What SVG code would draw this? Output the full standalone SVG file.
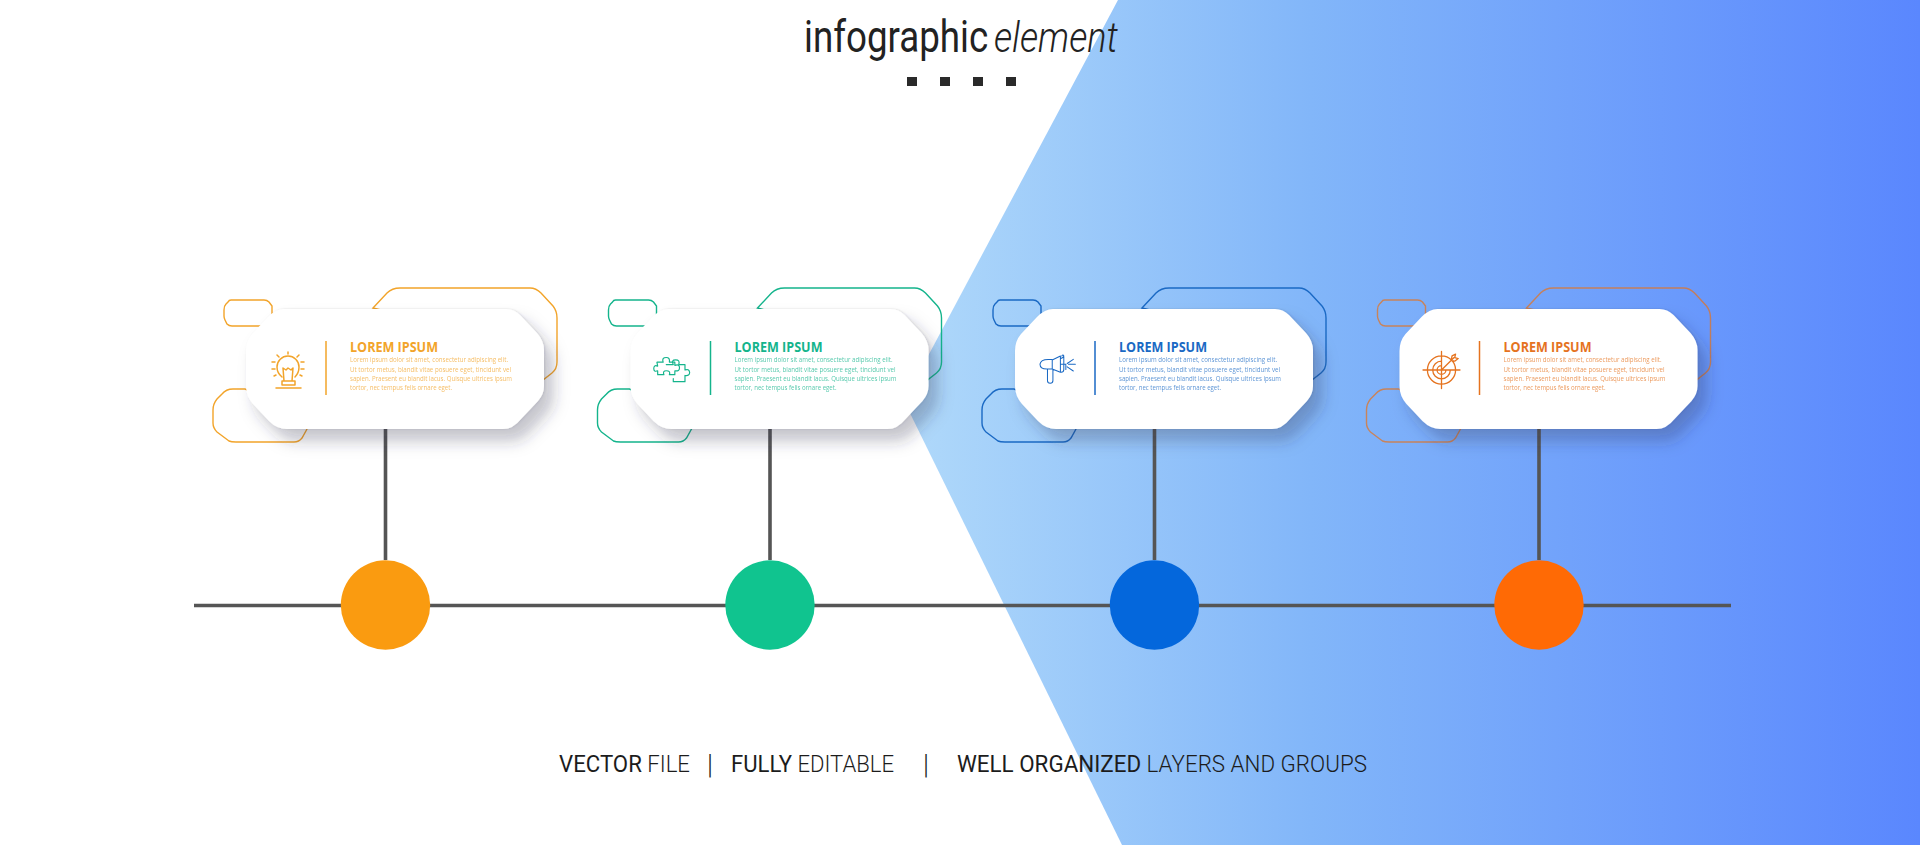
<svg xmlns="http://www.w3.org/2000/svg" width="1920" height="845" viewBox="0 0 1920 845">
<defs>
<linearGradient id="bg" gradientUnits="userSpaceOnUse" x1="904" y1="0" x2="1920" y2="0">
<stop offset="0" stop-color="#b0d9fa"/><stop offset="0.4" stop-color="#82b6f9"/><stop offset="1" stop-color="#5a87fe"/>
</linearGradient>
<filter id="sh" x="-15%" y="-25%" width="135%" height="160%">
<feDropShadow dx="9" dy="12" stdDeviation="8" flood-color="#2a3450" flood-opacity="0.26"/>
<feDropShadow dx="1" dy="0" stdDeviation="1" flood-color="#2a3450" flood-opacity="0.14"/>
</filter>
<path id="card" d="M284 309H506Q514 309 520 315L537 333Q544 341 544 350V386Q544 394 538 401L521 419Q513 429 503 429H287Q277 429 269 421L253 404Q246 396 246 386V351Q246 341 252 334L268 317Q276 309 284 309Z"/>
<path id="o1" d="M373 308L387 293Q392 288 400 288H530Q536 288 541 293L553 306Q557 311 557 318V362Q557 369 552 373L543 380L500 340Z"/>
<path id="o2" d="M245 389H233Q226 389 222 394L217 399Q213 404 213 410V423Q213 428 217 432L229 441Q231 442 236 442H294Q299 442 302 438L307 429L270 400Z"/>
<path id="o3" d="M231 300H264Q267 300 269 302L272 306V314Q272 317 270 319L263 326H232Q229 326 227 324L225 320Q224 318 224 316V310Q224 306 226 304L228 302Q229 300 231 300Z"/>
</defs>
<style>
.f{fill:none;stroke:currentColor;stroke-width:1.5;stroke-linejoin:round;stroke-linecap:round}
.ol{fill:none;stroke:currentColor;stroke-width:1.4}
.cd{fill:#fff;filter:url(#sh)}
.div{stroke:currentColor;stroke-width:1.5}
.ti{font:700 14px "Open Sans",sans-serif;fill:currentColor}
.bd{font:400 8px "Open Sans",sans-serif;fill:currentColor;opacity:.72}
.lk{stroke:#555;stroke-width:3.600;fill:none}
.hd{font-family:Roboto,sans-serif;fill:#222}
.ft{font-family:Roboto,sans-serif;font-size:23px;fill:#1c1c1c}
</style>
<rect width="1920" height="845" fill="#fff"/>
<path d="M1118 0L904 401L1122 845H1920V0Z" fill="url(#bg)"/>

<g id="header">
<text class="hd" transform="translate(804 52) scale(.835 1)" font-size="44" font-weight="400">infographic</text>
<text class="hd" transform="translate(994 52) scale(.86 1)" font-size="42" font-weight="300" font-style="italic">element</text>
<g fill="#2a2a2a"><rect x="907" y="77" width="10" height="9"/><rect x="940" y="77" width="10" height="9"/><rect x="973" y="77" width="10" height="9"/><rect x="1006" y="77" width="10" height="9"/></g>
</g>

<g id="connectors">
<path class="lk" d="M194 605.500H1731"/>
<path class="lk" d="M385.500 429V560M770 429V560M1154.500 429V560M1539 429V560"/>
</g>

<g id="node-1" color="#f2a42a">
<use href="#o1" class="ol"/><use href="#o2" class="ol"/><use href="#o3" class="ol"/>
<use href="#card" class="cd"/>
<path class="f" d="M276 388H301M282 385H295M282 381H295V385M282 381V385M284 381L283 368L286 370L288 368L291 370L293 368L292 381M282 377Q277 373 277 367A11 11 0 1 1 299 367Q299 373 295 377M288 352V354M277 355L279 357M299 355L297 357M272 362H275M304 362H301M272 369H275M304 369H301M274 376L276 375M302 376L300 375"/>
<path class="div" d="M326 341V395"/>
<text class="ti" x="350" y="352" textLength="88" lengthAdjust="spacingAndGlyphs">LOREM IPSUM</text>
<text class="bd" x="350" y="362" textLength="158" lengthAdjust="spacingAndGlyphs">Lorem ipsum dolor sit amet, consectetur adipiscing elit.</text>
<text class="bd" x="350" y="371.500" textLength="161" lengthAdjust="spacingAndGlyphs">Ut tortor metus, blandit vitae posuere eget, tincidunt vel</text>
<text class="bd" x="350" y="381" textLength="162" lengthAdjust="spacingAndGlyphs">sapien. Praesent eu blandit lacus. Quisque ultrices ipsum</text>
<text class="bd" x="350" y="390" textLength="102" lengthAdjust="spacingAndGlyphs">tortor, nec tempus felis ornare eget.</text>
<circle cx="385.500" cy="605" r="44.700" fill="#fa9b10"/>
</g>

<g id="node-2" color="#14b48c" transform="translate(384.500 0)">
<use href="#o1" class="ol"/><use href="#o2" class="ol"/><use href="#o3" class="ol"/>
<use href="#card" class="cd"/>
<g transform="translate(288 370) scale(.78) translate(-288 -370)">
<path class="f" d="M256 364H264Q262 358 268 358Q273 358 272 364H279V368Q285 366 285 371Q285 376 279 375V380H272Q274 375 268 375Q263 375 265 380H257V375Q252 377 252 372Q252 367 257 369Z" transform="translate(12 -4)"/>
<path class="f" d="M280 363H289Q286 357 292 357Q298 357 296 363H304V370Q309 368 310 373Q310 378 304 377V385H289V381"/>
</g>
<path class="div" d="M326 341V395"/>
<text class="ti" x="350" y="352" textLength="88" lengthAdjust="spacingAndGlyphs">LOREM IPSUM</text>
<text class="bd" x="350" y="362" textLength="158" lengthAdjust="spacingAndGlyphs">Lorem ipsum dolor sit amet, consectetur adipiscing elit.</text>
<text class="bd" x="350" y="371.500" textLength="161" lengthAdjust="spacingAndGlyphs">Ut tortor metus, blandit vitae posuere eget, tincidunt vel</text>
<text class="bd" x="350" y="381" textLength="162" lengthAdjust="spacingAndGlyphs">sapien. Praesent eu blandit lacus. Quisque ultrices ipsum</text>
<text class="bd" x="350" y="390" textLength="102" lengthAdjust="spacingAndGlyphs">tortor, nec tempus felis ornare eget.</text>
<circle cx="385.500" cy="605" r="44.700" fill="#10c48f"/>
</g>

<g id="node-3" color="#1a69c4" transform="translate(769 0)">
<use href="#o1" class="ol"/><use href="#o2" class="ol"/><use href="#o3" class="ol"/>
<use href="#card" class="cd"/>
<g transform="translate(271 356) scale(.68) translate(-271 -356)">
<path class="f" d="M289 361H283Q272 361 271 368Q271 375 281 375H289ZM289 362L301 356V380L289 375M301 360Q306 358 306 356Q305 353 303 356M301 368H309V376M302 380Q306 380 306 376V357M282 375V392A4 4 0 0 0 290 392V376M311 367L320 361M313 368H323M311 372L320 378"/>
</g>
<path class="div" d="M326 341V395"/>
<text class="ti" x="350" y="352" textLength="88" lengthAdjust="spacingAndGlyphs">LOREM IPSUM</text>
<text class="bd" x="350" y="362" textLength="158" lengthAdjust="spacingAndGlyphs">Lorem ipsum dolor sit amet, consectetur adipiscing elit.</text>
<text class="bd" x="350" y="371.500" textLength="161" lengthAdjust="spacingAndGlyphs">Ut tortor metus, blandit vitae posuere eget, tincidunt vel</text>
<text class="bd" x="350" y="381" textLength="162" lengthAdjust="spacingAndGlyphs">sapien. Praesent eu blandit lacus. Quisque ultrices ipsum</text>
<text class="bd" x="350" y="390" textLength="102" lengthAdjust="spacingAndGlyphs">tortor, nec tempus felis ornare eget.</text>
<circle cx="385.500" cy="605" r="44.700" fill="#0467dc"/>
</g>

<g id="node-4" color="#e5731f" transform="translate(1153.500 0)">
<g opacity=".72"><use href="#o1" class="ol"/><use href="#o2" class="ol"/><use href="#o3" class="ol"/></g>
<use href="#card" class="cd"/>
<g transform="translate(288 370) scale(.88) translate(-288 -370)">
<path class="f" d="M288 354A15.500 15.500 0 0 0 288 386A15.500 15.500 0 0 0 288 354M288 360A10 10 0 1 0 298 370M288 365A5 5 0 1 0 293 370M288 370L302 356M300 354L304 352L303 356L307 357L303 360L299 359ZM288 349V391M267 370H309"/>
</g>
<path class="div" d="M326 341V395"/>
<text class="ti" x="350" y="352" textLength="88" lengthAdjust="spacingAndGlyphs">LOREM IPSUM</text>
<text class="bd" x="350" y="362" textLength="158" lengthAdjust="spacingAndGlyphs">Lorem ipsum dolor sit amet, consectetur adipiscing elit.</text>
<text class="bd" x="350" y="371.500" textLength="161" lengthAdjust="spacingAndGlyphs">Ut tortor metus, blandit vitae posuere eget, tincidunt vel</text>
<text class="bd" x="350" y="381" textLength="162" lengthAdjust="spacingAndGlyphs">sapien. Praesent eu blandit lacus. Quisque ultrices ipsum</text>
<text class="bd" x="350" y="390" textLength="102" lengthAdjust="spacingAndGlyphs">tortor, nec tempus felis ornare eget.</text>
<circle cx="385.500" cy="605" r="44.700" fill="#ff6a05"/>
</g>

<g id="footer">
<text class="ft" x="559" y="772" textLength="131" lengthAdjust="spacingAndGlyphs"><tspan font-weight="400">VECTOR</tspan><tspan font-weight="300"> FILE</tspan></text>
<text class="ft" x="731" y="772" textLength="163" lengthAdjust="spacingAndGlyphs"><tspan font-weight="400">FULLY</tspan><tspan font-weight="300"> EDITABLE</tspan></text>
<text class="ft" x="957" y="772" textLength="410" lengthAdjust="spacingAndGlyphs"><tspan font-weight="400">WELL ORGANIZED</tspan><tspan font-weight="300"> LAYERS AND GROUPS</tspan></text>
<text class="ft" x="707" y="774" style="font-size:27px" font-weight="300">|</text>
<text class="ft" x="923" y="774" style="font-size:27px" font-weight="300">|</text>
</g>
</svg>
